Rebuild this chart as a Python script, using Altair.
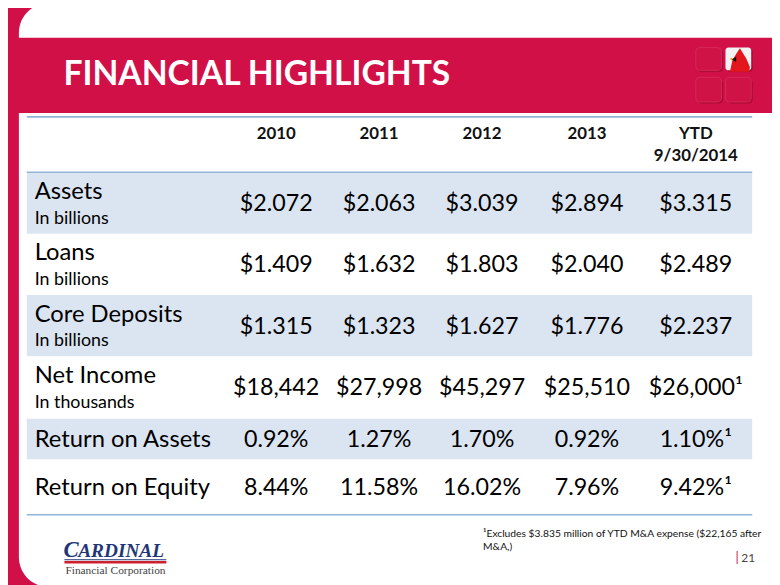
import altair as alt
import pandas as pd

# ---------------- data ----------------
title = "FINANCIAL HIGHLIGHTS"
header_top = ["2010", "2011", "2012", "2013", "YTD"]
header_bottom = ["", "", "", "", "9/30/2014"]
row_labels = ["Assets", "Loans", "Core Deposits", "Net Income", "Return on Assets", "Return on Equity"]
row_units = ["In billions", "In billions", "In billions", "In thousands", "", ""]
assets = ["$2.072", "$2.063", "$3.039", "$2.894", "$3.315"]
loans = ["$1.409", "$1.632", "$1.803", "$2.040", "$2.489"]
core_deposits = ["$1.315", "$1.323", "$1.627", "$1.776", "$2.237"]
net_income = ["$18,442", "$27,998", "$45,297", "$25,510", "$26,000\u00b9"]
return_on_assets = ["0.92%", "1.27%", "1.70%", "0.92%", "1.10%\u00b9"]
return_on_equity = ["8.44%", "11.58%", "16.02%", "7.96%", "9.42%\u00b9"]
footnote_lines = ["\u00b9Excludes $3.835 million of YTD M&A expense ($22,165 after", "M&A,)"]
page_number = "21"
logo_name_first = "C"
logo_name_rest = "ARDINAL"
logo_sub = "Financial Corporation"

table_rows = [assets, loans, core_deposits, net_income, return_on_assets, return_on_equity]

# ---------------- layout (window pixel coordinates) ----------------
W, H = 772, 577
col_x = [279, 383, 487, 593, 703]
row_top = [171, 233, 295, 357, 420, 461]
row_bot = [233, 295, 357, 420, 461, 517]
tbl_left, tbl_right = 27, 760
label_x = 35

RED = "#d11048"
XS = alt.Scale(domain=[8, 8 + W], range=[0, W], nice=False, zero=False)
YS = alt.Scale(domain=[8, 8 + H], range=[0, H], nice=False, zero=False)


def rects(df, **props):
    return alt.Chart(df).mark_rect(**props).encode(
        x=alt.X("x:Q", scale=XS, axis=None), x2="x2:Q",
        y=alt.Y("y:Q", scale=YS, axis=None), y2="y2:Q")


def rules(df, **props):
    return alt.Chart(df).mark_rule(**props).encode(
        x=alt.X("x:Q", scale=XS, axis=None), x2="x2:Q",
        y=alt.Y("y:Q", scale=YS, axis=None))


def texts(df, **props):
    return alt.Chart(df).mark_text(**props).encode(
        x=alt.X("x:Q", scale=XS, axis=None),
        y=alt.Y("y:Q", scale=YS, axis=None),
        text="t:N")


def points(df, **props):
    return alt.Chart(df).mark_point(**props).encode(
        x=alt.X("x:Q", scale=XS, axis=None),
        y=alt.Y("y:Q", scale=YS, axis=None))


layers = []
# slide background
layers.append(rects(pd.DataFrame({"x": [0], "x2": [800], "y": [0], "y2": [600]}), color=RED))
layers.append(rects(pd.DataFrame({"x": [19], "x2": [840], "y": [0], "y2": [590]}),
                    color="white", cornerRadius=30))
# banner
layers.append(rects(pd.DataFrame({"x": [0], "x2": [800], "y": [35], "y2": [111]}), color=RED))
# logo squares (shadow, then tile)
sq = pd.DataFrame({"x": [703, 703, 733], "x2": [729, 729, 759], "y": [45, 75, 75], "y2": [68, 100, 100]})
sq_shadow = sq.assign(x=sq["x"] + 1.5, x2=sq["x2"] + 1.5, y=sq["y"] + 1.5, y2=sq["y2"] + 1.5)
layers.append(rects(sq_shadow, fill="#a80b35", cornerRadius=4))
layers.append(rects(sq, fill="#cf1346", fillOpacity=1, cornerRadius=4, stroke="#d9305e", strokeWidth=0.8))
layers.append(rects(pd.DataFrame({"x": [734.5], "x2": [760.5], "y": [46.5], "y2": [69.5]}),
                    fill="#a80b35", cornerRadius=3))
layers.append(rects(pd.DataFrame({"x": [733], "x2": [759], "y": [45], "y2": [68]}),
                    fill="#f2f2f2", cornerRadius=3))
bird_path = "M-0.8,1 L-0.6,0.05 L-0.25,-0.55 L0.05,-1 L0.3,-0.6 L0.6,-0.1 L0.9,0.6 L0.85,1 Z"
layers.append(points(pd.DataFrame({"x": [747], "y": [57.5]}), shape=bird_path, size=560,
                     filled=True, color="#e2161c", opacity=1))
layers.append(points(pd.DataFrame({"x": [741.5], "y": [57]}), shape="triangle-left", size=28,
                     filled=True, color="#111111", opacity=1))
layers.append(points(pd.DataFrame({"x": [738.5], "y": [56.5]}), shape="triangle-left", size=10,
                     filled=True, color="#f29a1d", opacity=1))
# title
layers.append(texts(pd.DataFrame({"x": [64], "y": [73], "t": [title]}),
                    font="Lato", fontWeight="bold", fontSize=34, color="white",
                    align="left", baseline="middle"))

# table shading
shade_idx = [0, 2, 4]
layers.append(rects(pd.DataFrame({"x": [tbl_left] * 3, "x2": [tbl_right] * 3,
                                  "y": [row_top[i] for i in shade_idx],
                                  "y2": [row_bot[i] for i in shade_idx]}), color="#dbe5f1"))
# table lines
layers.append(rules(pd.DataFrame({"x": [tbl_left] * 3, "x2": [tbl_right] * 3,
                                  "y": [115, row_top[0], row_bot[-1]]}),
                    color="#95b3d7", strokeWidth=1.6))
# header
hdr = pd.DataFrame({"x": col_x + col_x, "y": [132] * 5 + [155] * 5, "t": header_top + header_bottom})
hdr = hdr[hdr["t"] != ""]
layers.append(texts(hdr, font="Lato", fontWeight="bold", fontSize=17, color="#111111",
                    align="center", baseline="middle"))
# row labels
main_rows, unit_rows = [], []
for i, (lab, unit) in enumerate(zip(row_labels, row_units)):
    if unit:
        main_rows.append({"x": label_x, "y": row_top[i] + 20, "t": lab})
        unit_rows.append({"x": label_x, "y": row_top[i] + 47, "t": unit})
    else:
        main_rows.append({"x": label_x, "y": (row_top[i] + row_bot[i]) / 2 + 1, "t": lab})
layers.append(texts(pd.DataFrame(main_rows), font="Lato", fontSize=24, color="#000000",
                    align="left", baseline="middle"))
layers.append(texts(pd.DataFrame(unit_rows), font="Lato", fontSize=18, color="#000000",
                    align="left", baseline="middle"))
# values
vals = []
for i, row in enumerate(table_rows):
    for j, v in enumerate(row):
        vals.append({"x": col_x[j], "y": (row_top[i] + row_bot[i]) / 2 + 1, "t": v})
layers.append(texts(pd.DataFrame(vals), font="Lato", fontSize=23.5, color="#000000",
                    align="center", baseline="middle"))

# footnote & page number
layers.append(texts(pd.DataFrame({"x": [488, 488], "y": [537, 550], "t": footnote_lines}),
                    font="Lato", fontSize=10.4, color="#111111", align="left", baseline="middle"))
layers.append(texts(pd.DataFrame({"x": [743], "y": [561], "t": ["|"]}),
                    font="Lato", fontSize=13, color=RED, align="left", baseline="middle"))
layers.append(texts(pd.DataFrame({"x": [749], "y": [561], "t": [page_number]}),
                    font="Lato", fontSize=12, color="#444444", align="left", baseline="middle"))

# company logo
layers.append(texts(pd.DataFrame({"x": [64], "y": [560], "t": [logo_name_first]}),
                    font="Liberation Serif", fontStyle="italic", fontWeight="bold", fontSize=23,
                    color="#1f3778", align="left", baseline="alphabetic"))
layers.append(texts(pd.DataFrame({"x": [79], "y": [560], "t": [logo_name_rest]}),
                    font="Liberation Serif", fontStyle="italic", fontWeight="bold", fontSize=19.5,
                    color="#1f3778", align="left", baseline="alphabetic"))
layers.append(rules(pd.DataFrame({"x": [65], "x2": [168], "y": [562.5]}), color="#1f3778", strokeWidth=1))
layers.append(rules(pd.DataFrame({"x": [65], "x2": [168], "y": [565]}), color="#d0202e", strokeWidth=2.5))
layers.append(texts(pd.DataFrame({"x": [66], "y": [574], "t": [logo_sub]}),
                    font="Liberation Serif", fontSize=11.5, color="#444444",
                    align="left", baseline="middle"))

chart = alt.layer(*layers).properties(
    width=W, height=H, padding=0,
    autosize=alt.AutoSizeParams(type="none"),
).configure_view(stroke=None).configure(background="white")

chart.save("out.html", embed_options={"renderer": "svg", "actions": False})
